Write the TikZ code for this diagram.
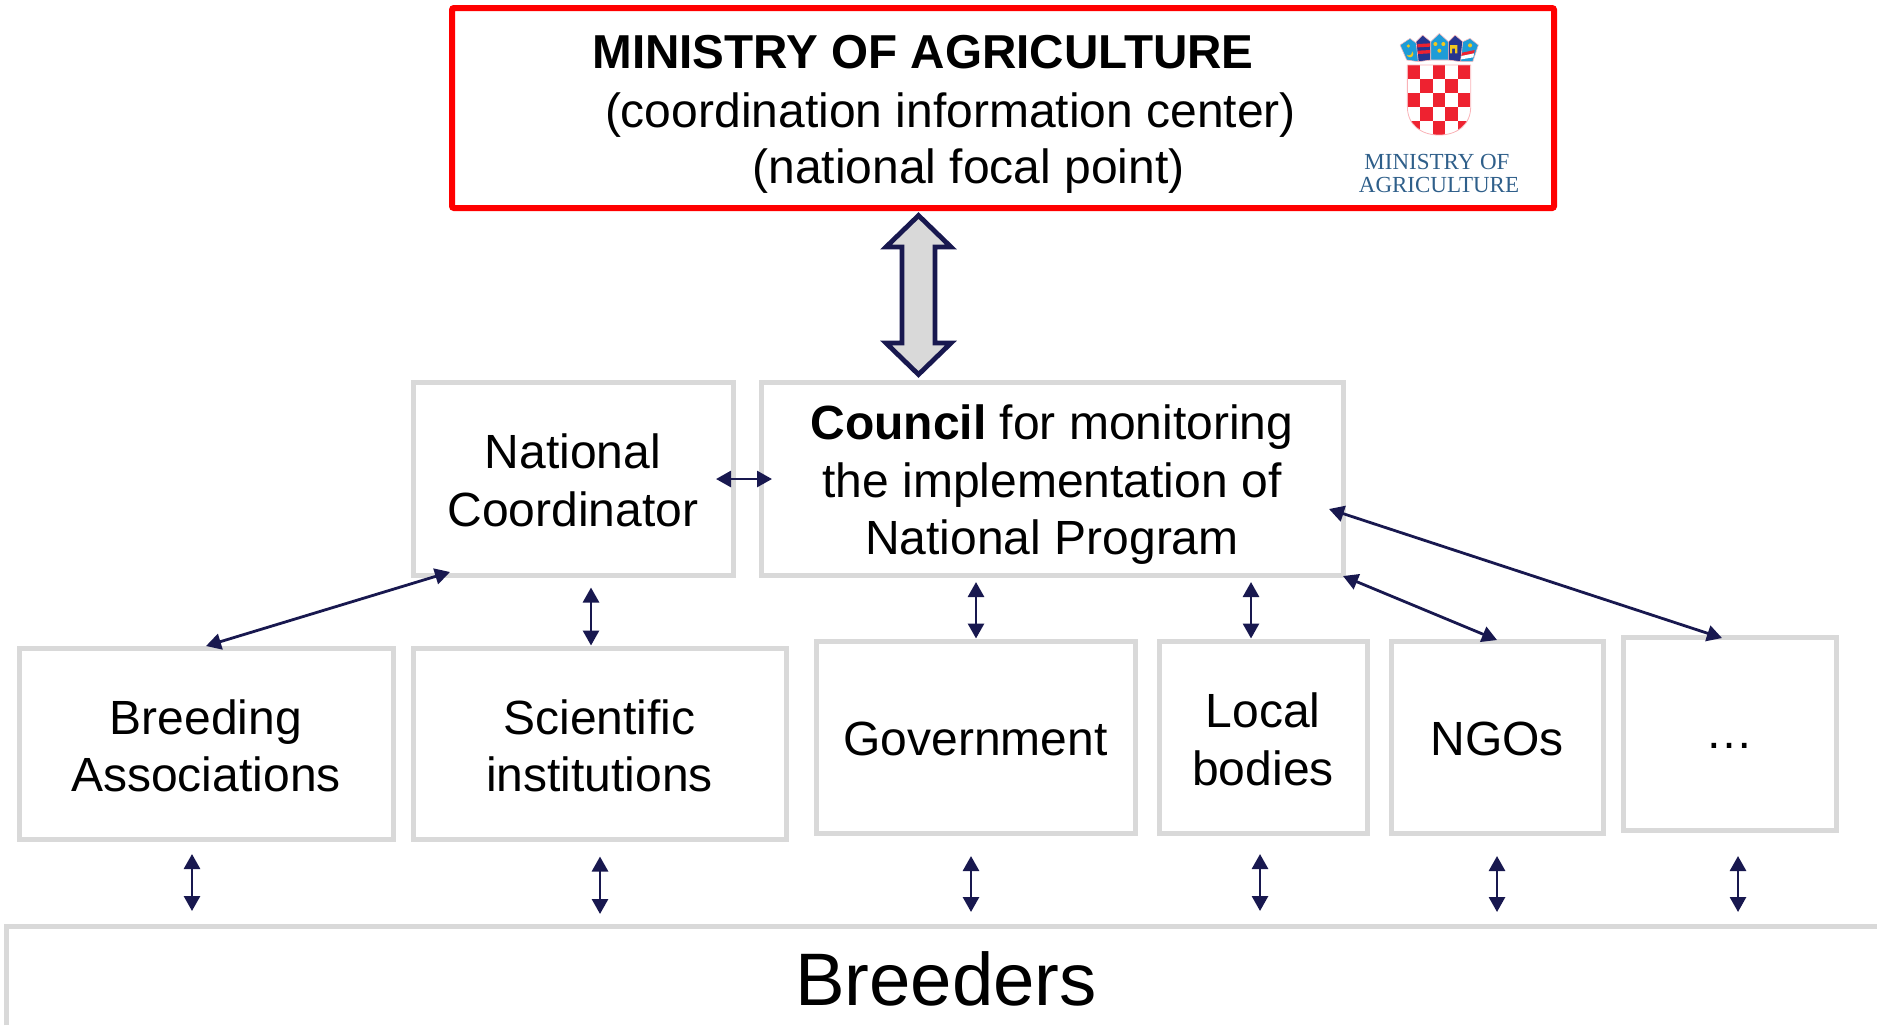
\documentclass[tikz,border=0pt]{standalone}
\usepackage{fontspec}
\setmainfont{Liberation Sans}
\newfontfamily\logofont{Liberation Serif}
\usetikzlibrary{arrows.meta}
\definecolor{navy}{HTML}{18184F}
\definecolor{boxgray}{HTML}{D9D9D9}
\definecolor{logoblue}{HTML}{2F5F8A}
\definecolor{crestred}{HTML}{EE2230}
\definecolor{crestlight}{HTML}{1E9CD7}
\definecolor{crestdark}{HTML}{26358F}
\definecolor{crestyellow}{HTML}{F2C81E}
\tikzset{
  x=0.5pt,y=-0.5pt,
  txt/.style={font=\fontsize{24}{28.75}\selectfont,align=center,inner sep=0pt,text=black},
  graybox/.style={draw=boxgray,line width=2.5pt,rectangle,outer sep=0pt,inner sep=0pt},
  redbox/.style={draw=red,line width=3pt,rounded corners=1pt,minimum width=551pt,minimum height=100pt,inner sep=0pt},
  link/.style={draw=navy,line width=1.4pt,{Triangle[length=7.5pt,width=8pt]}-{Triangle[length=7.5pt,width=8pt]}},
  logotext/.style={font=\logofont\fontsize{11.5}{11.5}\selectfont,text=logoblue,inner sep=0pt}
}
\begin{document}
\begin{tikzpicture}
\useasboundingbox (0,0) rectangle (1877,1025);
% ministry box
\node[redbox] (ministry) at (1003,108) {};
\node[txt,font=\bfseries\fontsize{23.8}{28.75}\selectfont] (t1) at (923,52) {MINISTRY OF AGRICULTURE};
\node[txt] (t2) at (950.5,115) {(coordination information center)};
\node[txt] (t3) at (968.5,171.5) {(national focal point)};
% logo
\begin{scope}[shift={(1300,0)},x=0.1667pt,y=-0.1667pt,line join=round]
  \fill[crestlight,draw=crestred!30,line width=.3pt] (300,135)--(330,115)--(350,130)--(355,185)--(320,180)--cycle;
  \fill[crestdark,draw=crestred!30,line width=.3pt] (348,125)--(368,105)--(392,125)--(392,180)--(355,185)--cycle;
  \fill[crestlight,draw=crestred!30,line width=.3pt] (392,125)--(418,100)--(445,125)--(445,180)--(392,180)--cycle;
  \fill[crestdark,draw=crestred!30,line width=.3pt] (445,125)--(465,105)--(488,125)--(482,185)--(445,180)--cycle;
  \fill[crestlight,draw=crestred!30,line width=.3pt] (488,125)--(510,115)--(535,135)--(518,185)--(482,185)--cycle;
  \fill[crestyellow] (330,162) circle[radius=10];
  \fill[crestlight] (326,156) circle[radius=10];
  \fill[crestyellow] (325,138) circle[radius=5];
  \fill[crestred] (352,132)--(390,130)--(390,140)--(352,142)--cycle;
  \fill[crestred] (354,152)--(390,150)--(390,160)--(354,162)--cycle;
  \fill[crestyellow] (406,132) circle[radius=6] (430,132) circle[radius=6] (418,152) circle[radius=6];
  \fill[crestyellow] (450,135)--(472,135)--(472,160)--(465,160)--(465,146)--(456,146)--(456,160)--(450,160)--cycle;
  \fill[crestyellow] (510,136) circle[radius=6];
  \fill[crestred] (486,158)--(524,150)--(522,160)--(484,168)--cycle;
  \fill[white] (484,168)--(522,160)--(520,172)--(483,178)--cycle;
  \begin{scope}
    \clip (322,195)--(512,195)--(512,320) .. controls (512,375) and (470,405) .. (417,405) .. controls (364,405) and (322,375) .. (322,320)--cycle;
    \foreach \i in {0,...,4}\foreach \j in {0,...,4}{
      \pgfmathtruncatemacro{\p}{mod(\i+\j,2)}
      \ifnum\p=0
        \fill[crestred] ({322+38*\i},{195+42*\j}) rectangle ({322+38*(\i+1)},{195+42*(\j+1)});
      \fi
    }
  \end{scope}
  \draw[crestred!35,line width=.4pt] (322,195)--(512,195)--(512,320) .. controls (512,375) and (470,405) .. (417,405) .. controls (364,405) and (322,375) .. (322,320)--cycle;
\end{scope}
\node[logotext] (logo1) at (1437,162) {MINISTRY OF};
\node[logotext] (logo2) at (1439,185) {AGRICULTURE};
% big arrow
\coordinate (bigtop) at (918.5,215.5);
\filldraw[fill=boxgray,draw=navy,line width=2.4pt,miter limit=10]
  (bigtop)--(951,247)--(935,247)--(935,343)--(951,343)--(918.5,374.5)--(886,343)--(902,343)--(902,247)--(886,247)--cycle;
% boxes
\node[graybox,minimum width=160pt,minimum height=96.5pt,label={[txt,yshift=-0.6pt]center:{National\\Coordinator}}] (nc) at (573,479) {};
\node[graybox,minimum width=291pt,minimum height=96.5pt,label={[txt,yshift=-2.9pt]center:{\textbf{Council} for monitoring\\the implementation of\\National Program}}] (council) at (1052,479) {};
\node[graybox,minimum width=187pt,minimum height=95.5pt,label={[txt,yshift=-1.2pt]center:{Breeding\\Associations}}] (breeding) at (206,743.5) {};
\node[graybox,minimum width=186.5pt,minimum height=95.5pt,label={[txt,yshift=-1.2pt]center:{Scientific\\institutions}}] (sci) at (599.5,743.5) {};
\node[graybox,minimum width=159.5pt,minimum height=96pt,label={[txt,yshift=-1.2pt]center:{Government}}] (gov) at (975.5,737) {};
\node[graybox,minimum width=104pt,minimum height=96pt,label={[txt,yshift=-1.2pt]center:{Local\\bodies}}] (local) at (1263,737) {};
\node[graybox,minimum width=106pt,minimum height=96pt,label={[txt,yshift=-1.2pt]center:{NGOs}}] (ngo) at (1497,737) {};
\node[graybox,minimum width=106.5pt,minimum height=96.5pt,label={[txt,yshift=-5.8pt]center:{…}}] (more) at (1729.5,734) {};
% breeders
\draw[boxgray,line width=2.5pt] (6,1025)--(6,926)--(1877,926);
\node[txt,font=\fontsize{37.2}{40}\selectfont] (breeders) at (946,979) {Breeders};
% connectors
\foreach \n/\x/\y in {a1/716/479,a2/772/479,b1/450/572,b2/206/646,c1/591/587.5,c2/591/645.5,d1/976/582,d2/976/638.5,e1/1251/582,e2/1251/638.5,f1/1343/576,f2/1497/640,g1/1329/509,g2/1722/638,
  h1/192/854,h2/192/911,i1/600/856.5,i2/600/914,j1/971/856,j2/971/912,k1/1260/854,k2/1260/911,l1/1497/856,l2/1497/912,m1/1738/856,m2/1738/912}
  \coordinate (\n) at (\x,\y);
\foreach \n in {a,b,c,d,e,f,g,h,i,j,k,l,m}
  \draw[link] (\n1)--(\n2);
\end{tikzpicture}
\end{document}
